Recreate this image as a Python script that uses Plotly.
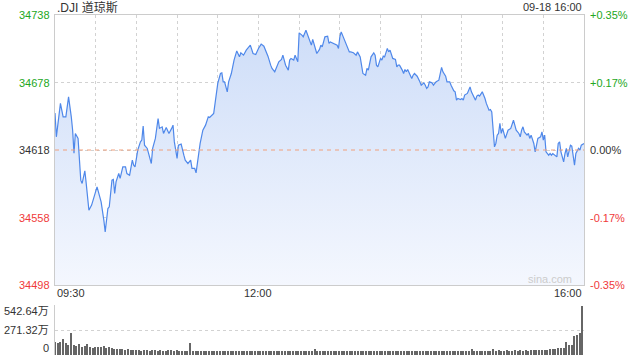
import plotly.graph_objects as go

# ---- data ----
minutes = [
    0, 1, 4, 6, 8, 10, 12, 13, 14, 15,
    17, 19, 20, 22, 23, 25, 27, 29, 31, 33,
    34, 36, 37, 39, 40, 42, 43, 44, 45, 47,
    48, 50, 52, 53, 55, 57, 58, 59, 61, 63,
    64, 65, 66, 68, 70, 71, 72, 74, 76, 77,
    79, 80, 82, 84, 86, 87, 88, 90, 91, 93,
    95, 96, 98, 100, 101, 103, 104, 106, 107, 109,
    111, 113, 114, 117, 118, 120, 122, 123, 124, 125,
    127, 128, 130, 132, 134, 136, 137, 139, 141, 143,
    144, 146, 148, 150, 152, 154, 156, 157, 159, 160,
    162, 163, 165, 167, 168, 170, 172, 173, 174, 176,
    177, 179, 180, 182, 183, 185, 187, 189, 190, 192,
    193, 195, 196, 197, 199, 201, 202, 203, 206, 208,
    209, 210, 211, 213, 215, 217, 218, 220, 222, 223,
    225, 226, 227, 229, 230, 231, 232, 233, 235, 236,
    237, 238, 240, 241, 242, 243, 245, 246, 247, 248,
    249, 251, 252, 253, 254, 256, 257, 258, 259, 260,
    262, 263, 264, 265, 267, 268, 269, 270, 272, 273,
    274, 275, 276, 278, 279, 280, 281, 283, 284, 285,
    286, 287, 288, 289, 291, 292, 294, 295, 296, 297,
    299, 300, 301, 302, 304, 305, 306, 307, 308, 310,
    311, 312, 313, 315, 317, 318, 320, 321, 322, 323,
    324, 325, 326, 327, 328, 329, 330, 332, 333, 334,
    336, 338, 339, 340, 342, 343, 344, 345, 346, 348,
    349, 350, 351, 353, 354, 355, 356, 358, 359, 360,
    361, 362, 364, 365, 366, 367, 369, 370, 371, 372,
    373, 375, 376, 377, 378, 380, 381, 382, 383, 384,
    386, 387, 388, 390,
]
prices = [
    34650.8, 34629.7, 34659.4, 34647.5, 34647.5, 34665.2, 34647.5, 34635.6, 34615.2, 34632.7,
    34628.3, 34591.2, 34588.3, 34599.5, 34588.3, 34564.5, 34569.0, 34577.9, 34585.2, 34576.4,
    34571.9, 34555.6, 34545.2, 34566.0, 34567.5, 34591.2, 34591.8, 34579.4, 34589.7, 34597.1,
    34592.7, 34603.0, 34603.0, 34597.1, 34595.6, 34609.0, 34604.5, 34603.0, 34617.9, 34625.2,
    34626.8, 34639.2, 34622.3, 34619.4, 34609.0, 34606.0, 34619.4, 34628.3, 34646.0, 34637.2,
    34638.6, 34632.7, 34638.0, 34632.7, 34637.2, 34640.1, 34625.2, 34610.5, 34622.3, 34623.2,
    34613.4, 34609.0, 34606.0, 34609.0, 34601.6, 34601.6, 34597.7, 34614.9, 34623.8, 34635.6,
    34640.1, 34647.5, 34646.9, 34650.5, 34659.4, 34677.2, 34686.0, 34686.6, 34678.6, 34678.6,
    34669.7, 34678.6, 34686.0, 34697.9, 34706.1, 34700.8, 34704.4, 34702.3, 34706.8, 34710.3,
    34711.2, 34703.8, 34702.9, 34708.3, 34712.1, 34710.3, 34704.4, 34701.4, 34693.4, 34690.5,
    34687.5, 34690.5, 34696.4, 34698.5, 34702.3, 34693.4, 34689.0, 34697.9, 34699.4, 34697.9,
    34702.3, 34696.4, 34722.1, 34720.1, 34718.6, 34724.5, 34717.2, 34711.2, 34716.3, 34708.3,
    34703.8, 34707.4, 34711.2, 34709.7, 34718.6, 34719.2, 34712.7, 34714.1, 34712.7, 34711.2,
    34708.3, 34718.6, 34723.0, 34717.2, 34712.7, 34705.2, 34705.2, 34704.4, 34702.3, 34705.2,
    34700.8, 34694.9, 34686.0, 34684.5, 34690.5, 34689.0, 34694.9, 34700.8, 34704.4, 34702.3,
    34693.4, 34691.9, 34699.4, 34697.9, 34701.4, 34700.8, 34708.3, 34705.2, 34706.8, 34703.8,
    34699.4, 34698.5, 34691.9, 34693.4, 34693.4, 34689.0, 34686.0, 34689.6, 34687.5, 34689.6,
    34684.5, 34681.6, 34684.5, 34686.0, 34683.6, 34680.1, 34678.6, 34675.6, 34677.7, 34675.6,
    34672.7, 34674.1, 34678.6, 34677.7, 34675.6, 34677.2, 34678.6, 34680.1, 34684.5, 34691.4,
    34687.5, 34686.0, 34683.6, 34678.6, 34678.6, 34675.6, 34670.6, 34669.7, 34662.3, 34663.8,
    34662.9, 34663.8, 34662.3, 34666.8, 34668.3, 34671.2, 34674.1, 34669.7, 34666.8, 34662.3,
    34665.9, 34666.8, 34665.9, 34669.7, 34663.8, 34659.4, 34653.4, 34654.0, 34651.9, 34635.6,
    34620.8, 34623.8, 34631.2, 34632.7, 34641.6, 34632.7, 34637.2, 34628.3, 34632.7, 34635.6,
    34637.2, 34644.5, 34640.1, 34635.6, 34632.7, 34629.7, 34635.6, 34638.6, 34634.1, 34631.2,
    34632.7, 34628.3, 34631.2, 34623.8, 34616.4, 34623.8, 34628.3, 34629.7, 34634.1, 34626.8,
    34631.2, 34616.4, 34613.4, 34614.9, 34613.4, 34614.9, 34613.4, 34611.9, 34623.8, 34625.2,
    34616.4, 34607.5, 34614.9, 34619.4, 34611.9, 34622.3, 34621.4, 34613.4, 34604.5, 34614.9,
    34619.4, 34617.9, 34622.3, 34623.8,
]

# volume (万), one bar every 2 minutes from 09:30
vol_minutes = list(range(0, 391, 2))
volumes = [
    138, 127, 144, 170, 127, 108, 242, 108, 101, 119,
    90, 98, 116, 90, 72, 90, 90, 84, 98, 72,
    84, 72, 62, 65, 60, 65, 55, 60, 52, 58,
    50, 55, 48, 52, 56, 47, 50, 54, 46, 52,
    48, 45, 50, 53, 44, 49, 46, 42, 48, 45,
    130, 44, 40, 46, 42, 48, 43, 40, 45, 47,
    42, 46, 40, 44, 48, 41, 45, 43, 40, 46,
    44, 42, 47, 40, 45, 43, 41, 46, 42, 44,
    40, 45, 43, 47, 41, 44, 40, 42, 46, 43,
    41, 45, 40, 44, 42, 46, 65, 42, 45, 40,
    43, 47, 41, 45, 44, 40, 46, 42, 45, 43,
    44, 41, 46, 43, 40, 45, 47, 42, 44, 40,
    43, 46, 41, 45, 42, 44, 40, 43, 46, 42,
    41, 44, 40, 45, 43, 42, 46, 41, 44, 43,
    40, 42, 45, 43, 41, 44, 46, 42, 40, 45,
    43, 47, 41, 44, 62, 45, 42, 46, 43, 47,
    44, 48, 65, 46, 50, 44, 47, 55, 45, 48,
    50, 46, 52, 48, 55, 47, 50, 53, 49, 52,
    55, 58, 54, 60, 65, 68, 72, 76, 72, 141,
    108, 108, 206, 217, 235, 535,
]

prev_close = 34618
price_ticks = [34498, 34558, 34618, 34678, 34738]
price_labels = ["34498", "34558", "34618", "34678", "34738"]
pct_labels = ["-0.35%", "-0.17%", "0.00%", "+0.17%", "+0.35%"]
vol_ticks = [0, 271.32, 542.64]
vol_labels = ["0", "271.32万", "542.64万"]
time_ticks = list(range(0, 391, 30))
title_text = ".DJI 道琼斯"
stamp_text = "09-18 16:00"

GREEN = "#22a722"
RED = "#f03a3a"
DARK = "#333333"
FONT = "Liberation Sans, Arial, Noto Sans CJK SC, sans-serif"
GRID = "#d2d2d2"

def label_color(v):
    if v > prev_close:
        return GREEN
    if v < prev_close:
        return RED
    return DARK

fig = go.Figure()

# baseline for fill
fig.add_trace(go.Scatter(
    x=minutes, y=[price_ticks[0]] * len(minutes), mode="lines",
    line=dict(width=0), hoverinfo="skip", showlegend=False,
    xaxis="x", yaxis="y"))

fig.add_trace(go.Scatter(
    x=minutes, y=prices, mode="lines",
    line=dict(color="#4f88ea", width=1.2),
    fill="tonexty",
    fillgradient=dict(type="vertical", start=price_ticks[0], stop=price_ticks[-1],
                      colorscale=[[0, "rgba(244,247,254,1)"], [1, "rgba(204,220,248,1)"]]),
    showlegend=False, xaxis="x", yaxis="y"))

fig.add_trace(go.Bar(
    x=vol_minutes, y=volumes, width=1.0,
    marker=dict(color="#666666", line=dict(width=0)),
    showlegend=False, xaxis="x2", yaxis="y2"))

main_dom = [(355 - 285) / 340, 1.0]
vol_dom = [0.0, (355 - 305) / 340]

fig.update_layout(
    width=640, height=360,
    margin=dict(l=55, r=56, t=15, b=5),
    paper_bgcolor="white", plot_bgcolor="rgba(0,0,0,0)",
    font=dict(family=FONT, size=11, color=DARK),
    bargap=0,
    xaxis=dict(domain=[0, 1], range=[0, 390], tickvals=time_ticks,
               showticklabels=False, showgrid=True, gridcolor=GRID, griddash="dot",
               gridwidth=1, showline=True, mirror=True, linecolor="#cccccc",
               zeroline=False, anchor="y", fixedrange=True),
    yaxis=dict(domain=main_dom, range=[price_ticks[0], price_ticks[-1]], tickvals=price_ticks,
               showticklabels=False, showgrid=True, gridcolor=GRID, griddash="dot",
               showline=True, mirror=True, linecolor="#cccccc", zeroline=False,
               anchor="x", fixedrange=True),
    xaxis2=dict(domain=[0, 1], range=[0, 391], showticklabels=False, showgrid=False,
                showline=False, zeroline=False, anchor="y2", fixedrange=True),
    yaxis2=dict(domain=vol_dom, range=[0, vol_ticks[-1]], tickvals=vol_ticks[1:],
                showticklabels=False, showgrid=True, gridcolor=GRID, griddash="dot",
                showline=True, linecolor="#cccccc", zeroline=False, anchor="x2",
                fixedrange=True),
)

# previous close dashed line
fig.add_shape(type="line", xref="x", yref="y", x0=0, x1=390, y0=prev_close, y1=prev_close,
              line=dict(color="#f0a07c", width=1, dash="4px,4px"))

ann = []
for v, lab, pl in zip(price_ticks, price_labels, pct_labels):
    c = label_color(v)
    ann.append(dict(x=0, xref="paper", y=v, yref="y", text=lab, showarrow=False,
                    xanchor="right", yanchor="middle", xshift=-3,
                    font=dict(size=11, color=c)))
    ann.append(dict(x=1, xref="paper", y=v, yref="y", text=pl, showarrow=False,
                    xanchor="left", yanchor="middle", xshift=4,
                    font=dict(size=11, color=c)))

# time labels
ann.append(dict(x=0, xref="x", y=(355 - 293) / 340, yref="paper", text="09:30",
                showarrow=False, xanchor="left", yanchor="middle", font=dict(size=11, color=DARK)))
ann.append(dict(x=150, xref="x", y=(355 - 293) / 340, yref="paper", text="12:00",
                showarrow=False, xanchor="center", yanchor="middle", font=dict(size=11, color=DARK)))
ann.append(dict(x=390, xref="x", y=(355 - 293) / 340, yref="paper", text="16:00",
                showarrow=False, xanchor="right", yanchor="middle", font=dict(size=11, color=DARK)))

# volume labels
vol_label_y = [348, 330, 311]
for lab, py in zip(vol_labels, vol_label_y):
    ann.append(dict(x=0, xref="paper", y=(355 - py) / 340, yref="paper", text=lab,
                    showarrow=False, xanchor="right", yanchor="middle", xshift=-4,
                    font=dict(size=11, color=DARK)))

# header texts
ann.append(dict(x=0, xref="paper", y=(355 - 7) / 340, yref="paper", text=title_text,
                showarrow=False, xanchor="left", yanchor="middle",
                font=dict(size=12, color=DARK)))
ann.append(dict(x=1, xref="paper", y=(355 - 7) / 340, yref="paper", text=stamp_text,
                showarrow=False, xanchor="right", yanchor="middle",
                font=dict(size=11, color=DARK)))

# watermark
ann.append(dict(x=(574 - 55) / 529, xref="paper", y=(355 - 279) / 340, yref="paper",
                text="sina.com", showarrow=False, xanchor="right", yanchor="middle",
                font=dict(size=11, color="#cccccc")))

fig.update_layout(annotations=ann)

fig.write_html("out.html", config={"displayModeBar": False},
               post_script="document.body.style.margin='0';document.body.style.padding='0';")
